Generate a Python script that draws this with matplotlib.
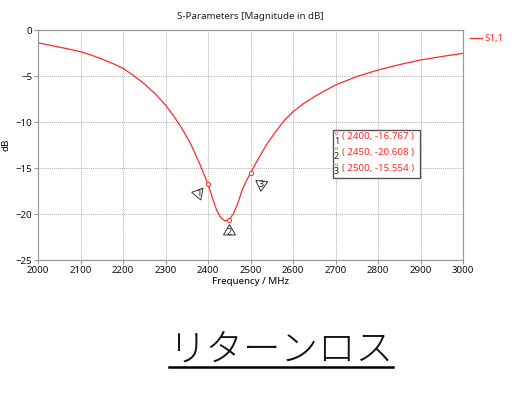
import matplotlib
matplotlib.use("Agg")
import matplotlib.pyplot as plt
from matplotlib.lines import Line2D

# --- S1,1 curve ---
freq = [2000, 2025, 2050, 2075, 2100, 2125, 2150, 2175, 2200, 2225, 2250, 2275,
        2300, 2320, 2340, 2360, 2380, 2400, 2410, 2420, 2430, 2440, 2450, 2460,
        2470, 2480, 2490, 2500, 2520, 2540, 2560, 2580, 2600, 2625, 2650, 2675,
        2700, 2750, 2800, 2850, 2900, 2950, 3000]
s11 = [-1.40, -1.62, -1.86, -2.10, -2.36, -2.72, -3.15, -3.62, -4.17, -4.95, -5.85, -6.90,
       -8.15, -9.40, -10.80, -12.45, -14.50, -16.767, -18.20, -19.55, -20.40, -20.75, -20.608, -19.95,
       -18.85, -17.45, -16.40, -15.554, -13.85, -12.30, -11.00, -9.80, -8.88, -8.00, -7.25, -6.60,
       -5.98, -5.06, -4.35, -3.77, -3.26, -2.88, -2.54]

# markers
mk_freq = [2400, 2450, 2500]
mk_val = [-16.767, -20.608, -15.554]
mk_names = ["1", "2", "3"]

x_ticks = [2000, 2100, 2200, 2300, 2400, 2500, 2600, 2700, 2800, 2900, 3000]
y_ticks = [0, -5, -10, -15, -20, -25]

red = "#ff2a2a"
gray = "#9a9a9a"
plt.rcParams["font.family"] = ["Noto Sans", "DejaVu Sans"]

W, H = 515, 396
fig = plt.figure(figsize=(W / 100, H / 100), dpi=100)
ax = fig.add_axes([38 / W, 1 - 260 / H, (463 - 38) / W, (260 - 30) / H])

ax.plot(freq, s11, color=red, linewidth=0.9)
ax.set_xlim(2000, 3000)
ax.set_ylim(-25, 0)
ax.set_xticks(x_ticks)
ax.set_yticks(y_ticks)
ax.tick_params(labelsize=7, length=3, color=gray, pad=1, labelcolor="#111111")
ax.grid(True, linestyle=(0, (1, 1)), color="#b0b0b0", linewidth=0.7)
for s in ax.spines.values():
    s.set_color(gray)
    s.set_linewidth(0.9)

ax.set_title("S-Parameters [Magnitude in dB]", fontsize=7, color="#222222", pad=8)
ax.set_xlabel("Frequency / MHz", fontsize=7, labelpad=2)
ax.set_ylabel("dB", fontsize=7, labelpad=4)

# legend outside on the right
fig.add_artist(Line2D([470 / W, 482 / W], [1 - 38 / H, 1 - 38 / H], color=red, linewidth=0.9))
fig.text(484 / W, 1 - 38 / H, "S1,1", color=red, fontsize=7, va="center")

# marker points and triangles
offsets = [(-7, -6), (0, -8.5), (7.5, -7.5)]
angles = [-40, 0, 55]
ax.plot(mk_freq, mk_val, "o", ms=3, mfc="white", mec=red, mew=0.7, zorder=4)
for f, v, n, off, a in zip(mk_freq, mk_val, mk_names, offsets, angles):
    ax.plot([f], [v], marker=(3, 0, a), ms=10, mfc="white", mec="#333333", mew=0.7,
            linestyle="none", zorder=5,
            transform=ax.transData + matplotlib.transforms.ScaledTranslation(off[0] / 72, off[1] / 72, fig.dpi_scale_trans))
    ax.annotate(n, xy=(f, v), xytext=(off[0], off[1] - 1), textcoords="offset points",
                ha="center", va="center", fontsize=6.5, color="#222222", zorder=6)

# marker value box
box_lines = [f"( {f}, {v:.3f} )" for f, v in zip(mk_freq, mk_val)]
fig.patches.append(matplotlib.patches.Rectangle((333 / W, 1 - 178 / H), 87 / W, 48 / H,
                                                transform=fig.transFigure, facecolor="white",
                                                edgecolor="#555555", linewidth=1.0, zorder=10))
for i, t in enumerate(box_lines):
    yy = 1 - (137 + 15.5 * i) / H
    fig.text(342 / W, yy, t, color=red, fontsize=7, va="center", zorder=11)
    fig.text(336.5 / W, yy + 3.5 / H, "o", color=red, fontsize=4, va="center", ha="center", zorder=11)
    fig.text(336.5 / W, yy - 4 / H, mk_names[i], color="#222222", fontsize=6.5, va="center", ha="center", zorder=11)

# big Japanese caption with underline
fig.text(281 / W, 1 - 350 / H, "リターンロス", fontsize=27, ha="center", va="center",
         family=["Noto Sans CJK JP", "DejaVu Sans"], fontweight="light", color="#111111")
fig.add_artist(Line2D([169 / W, 393 / W], [1 - 367 / H, 1 - 367 / H], color="black", linewidth=1.8))

fig.savefig("out.png", dpi=100)
